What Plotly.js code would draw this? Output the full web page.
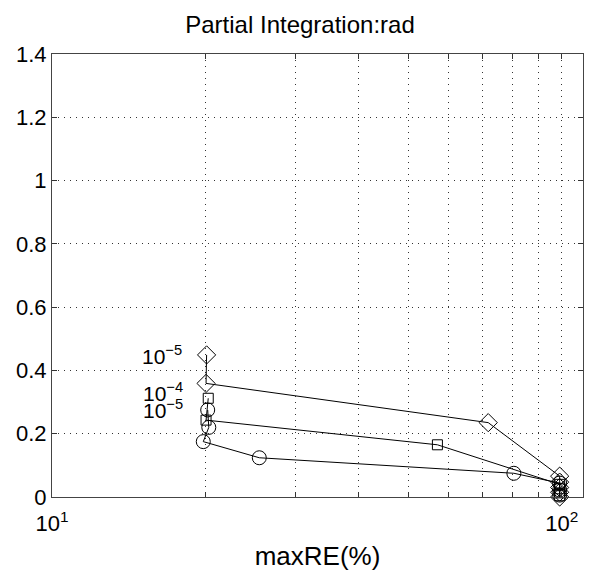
<!DOCTYPE html>
<html>
<head>
<meta charset="utf-8">
<script src="https://cdn.plot.ly/plotly-3.0.1.min.js"></script>
<style>
  html, body { margin: 0; padding: 0; background: #fff; }
  #chart { width: 600px; height: 577px; }
</style>
</head>
<body>
<div id="chart"></div>
<script>
// ── Data ──

const diamondX = [20.1, 20.05, 71.7, 99, 99, 99, 99, 99];
const diamondY = [0.449, 0.359, 0.235, 0.066, 0.047, 0.03, 0.015, 0.0];

const squareX = [20.25, 20.05, 57.0, 99, 99, 99, 99];
const squareY = [0.312, 0.243, 0.165, 0.04, 0.026, 0.013, 0.004];

const circleX = [20.2, 20.3, 19.8, 25.5, 80.5, 99, 99, 99];
const circleY = [0.275, 0.220, 0.175, 0.124, 0.075, 0.044, 0.022, 0.006];

const seriesLabels = ["10<sup>−5</sup>", "10<sup>−4</sup>", "10<sup>−5</sup>"];

const xTickVals = [10, 20, 30, 40, 50, 60, 70, 80, 90, 100];
const xTickText = ["10<sup>1</sup>", "", "", "", "", "", "", "", "", "10<sup>2</sup>"];
const yTickVals = [0, 0.2, 0.4, 0.6, 0.8, 1, 1.2, 1.4];
const yTickText = ["0", "0.2", "0.4", "0.6", "0.8", "1", "1.2", "1.4"];

// ── Traces ──

const FONT = "Liberation Sans, Arial, sans-serif";

function series(x, y, symbol, size) {
    return {
        x: x,
        y: y,
        type: "scatter",
        mode: "lines+markers",
        line: { color: "#000", width: 1 },
        marker: { symbol: symbol, size: size, color: "#000", line: { width: 1, color: "#000" } },
        cliponaxis: false,
        hoverinfo: "skip"
    };
}

const traces = [
    series(diamondX, diamondY, "diamond-open", 14),
    series(squareX, squareY, "square-open", 10),
    series(circleX, circleY, "circle-open", 14)
];

// labels sit to the left of each series' first point
const firsts = [[diamondX[0], diamondY[0]], [squareX[0], squareY[0]], [circleX[0], circleY[0]]];
const yShifts = [0, 6, 1];
const annotations = seriesLabels.map((t, i) => ({
    x: Math.log10(firsts[i][0]),
    y: firsts[i][1],
    xref: "x",
    yref: "y",
    text: t,
    showarrow: false,
    xanchor: "right",
    yanchor: "middle",
    xshift: -23,
    yshift: yShifts[i],
    font: { family: FONT, size: 21, color: "#000" }
}));

const gridDash = "1px,5px";

const layout = {
    width: 600,
    height: 577,
    margin: { l: 52, r: 17, t: 54, b: 80 },
    paper_bgcolor: "#fff",
    plot_bgcolor: "#fff",
    showlegend: false,
    font: { family: FONT, color: "#000" },
    title: {
        text: "Partial Integration:rad",
        font: { family: FONT, size: 24, color: "#000" },
        x: 0.5,
        xanchor: "center",
        y: 0.957,
        yanchor: "middle"
    },
    xaxis: {
        type: "log",
        range: [1, Math.log10(110)],
        tickvals: xTickVals,
        ticktext: xTickText,
        tickfont: { family: FONT, size: 22, color: "#000" },
        ticks: "inside",
        ticklen: 5,
        tickcolor: "#333",
        ticklabelstandoff: 7,
        showline: true,
        linecolor: "#444",
        linewidth: 1,
        mirror: "ticks",
        showgrid: true,
        gridcolor: "#333",
        griddash: gridDash,
        gridwidth: 1,
        zeroline: false,
        title: { text: "maxRE(%)", font: { family: FONT, size: 26, color: "#000" }, standoff: 11 }
    },
    yaxis: {
        range: [0, 1.4],
        tickvals: yTickVals,
        ticktext: yTickText,
        tickfont: { family: FONT, size: 22, color: "#000" },
        ticks: "inside",
        ticklen: 5,
        tickcolor: "#333",
        showline: true,
        linecolor: "#444",
        linewidth: 1,
        mirror: "ticks",
        showgrid: true,
        gridcolor: "#333",
        griddash: gridDash,
        gridwidth: 1,
        zeroline: false
    },
    annotations: annotations
};

Plotly.newPlot("chart", traces, layout, { displayModeBar: false, staticPlot: true });
</script>
</body>
</html>
